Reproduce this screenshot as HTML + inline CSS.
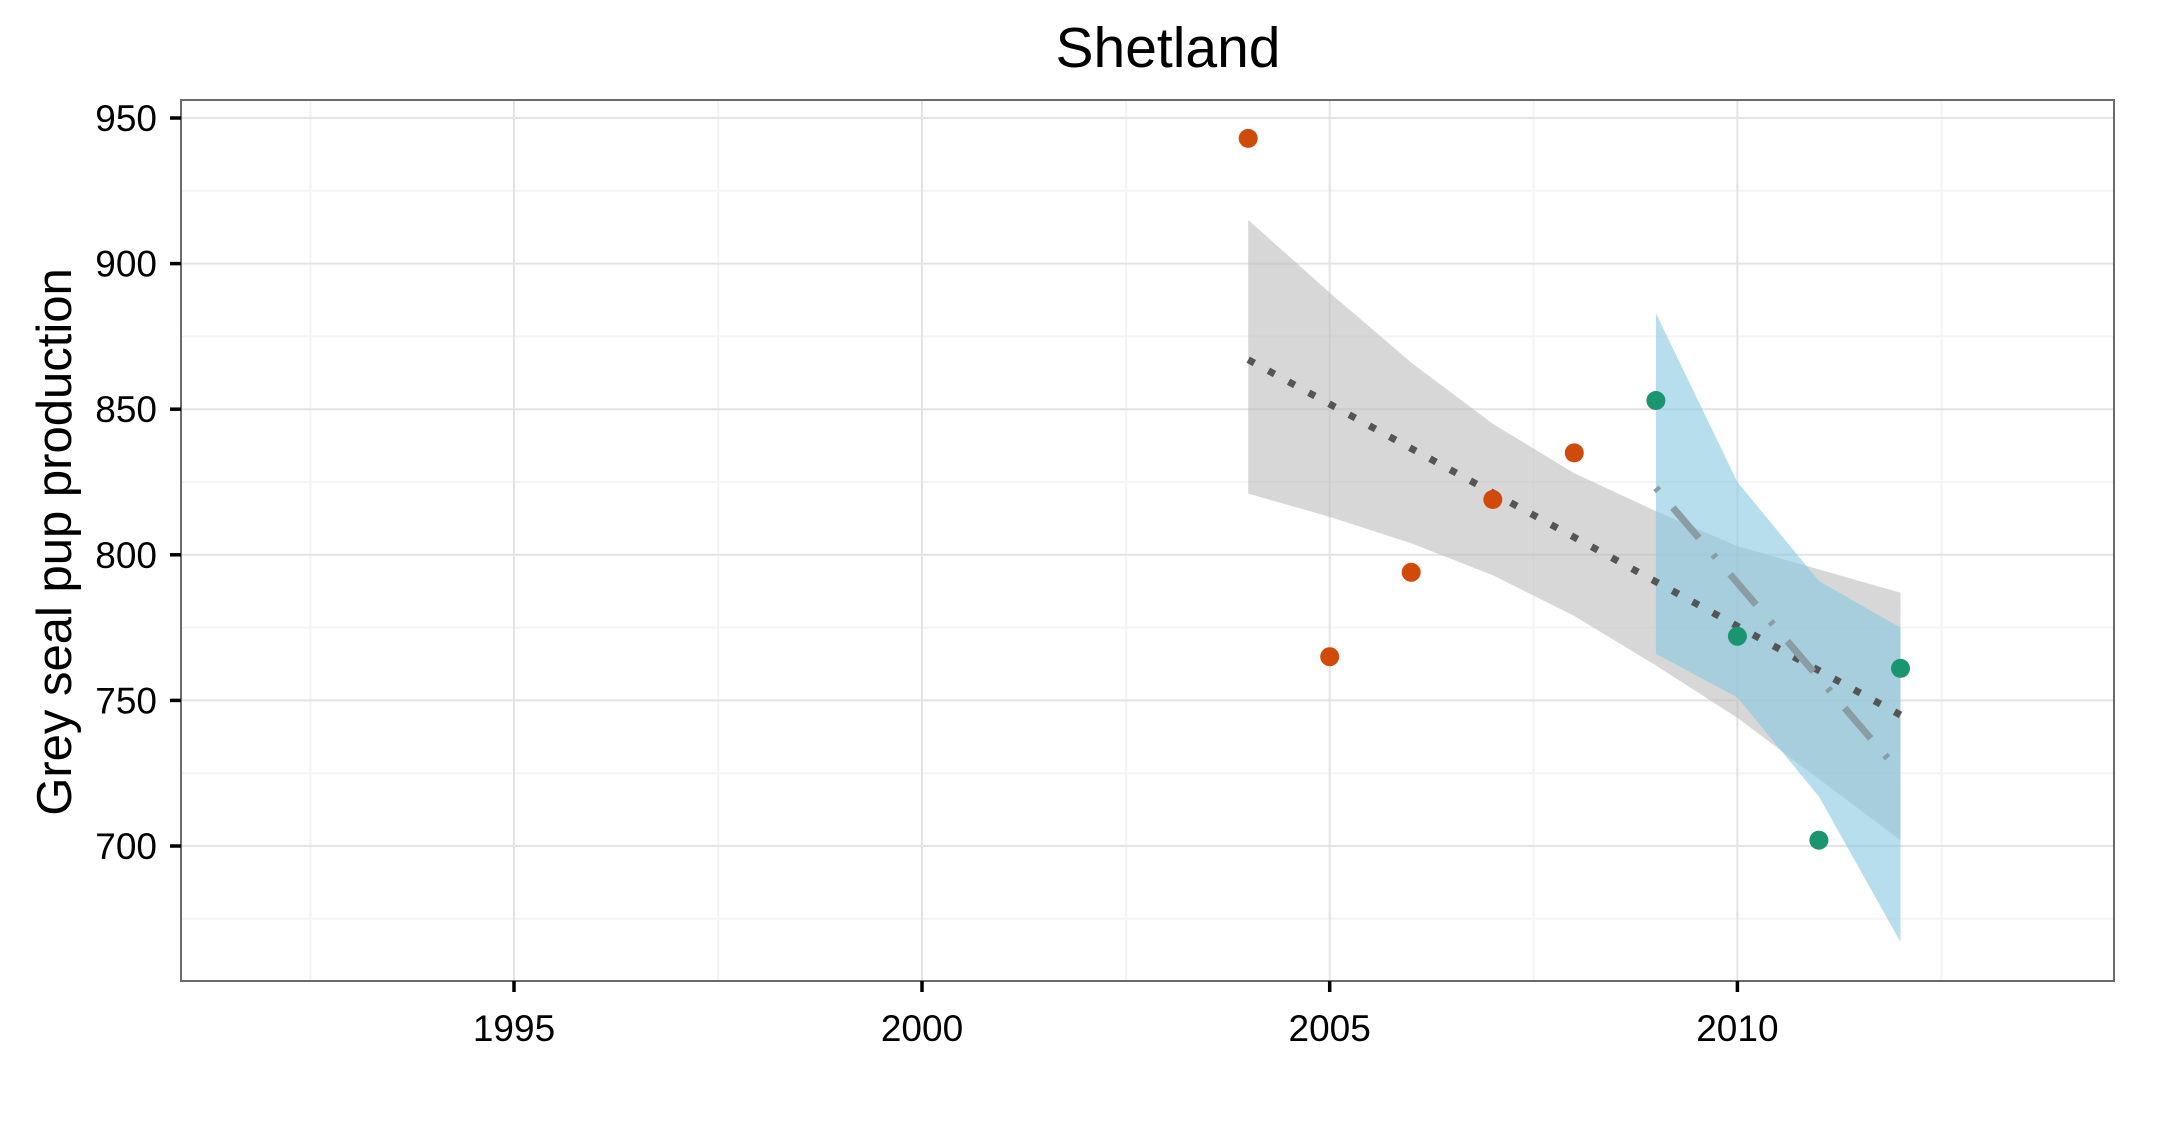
<!DOCTYPE html>
<html><head><meta charset="utf-8"><style>html,body{margin:0;padding:0;background:#fff}</style></head><body>
<svg width="2179" height="1125" viewBox="0 0 2179 1125" xmlns="http://www.w3.org/2000/svg" font-family="Liberation Sans, sans-serif">
<rect width="2179" height="1125" fill="#fff"/>
<g stroke="#f4f4f4" stroke-width="2">
<line x1="181" x2="2114" y1="190.8" y2="190.8"/><line x1="181" x2="2114" y1="336.4" y2="336.4"/><line x1="181" x2="2114" y1="482" y2="482"/><line x1="181" x2="2114" y1="627.6" y2="627.6"/><line x1="181" x2="2114" y1="773.2" y2="773.2"/><line x1="181" x2="2114" y1="918.8" y2="918.8"/>
<line y1="100" y2="981" x1="310.4" x2="310.4"/><line y1="100" y2="981" x1="718.2" x2="718.2"/><line y1="100" y2="981" x1="1125.9" x2="1125.9"/><line y1="100" y2="981" x1="1533.6" x2="1533.6"/><line y1="100" y2="981" x1="1941.3" x2="1941.3"/>
</g>
<g stroke="#e3e3e3" stroke-width="2">
<line x1="181" x2="2114" y1="118" y2="118"/><line x1="181" x2="2114" y1="263.6" y2="263.6"/><line x1="181" x2="2114" y1="409.2" y2="409.2"/><line x1="181" x2="2114" y1="554.8" y2="554.8"/><line x1="181" x2="2114" y1="700.4" y2="700.4"/><line x1="181" x2="2114" y1="846" y2="846"/>
<line y1="100" y2="981" x1="514" x2="514"/><line y1="100" y2="981" x1="922" x2="922"/><line y1="100" y2="981" x1="1329.7" x2="1329.7"/><line y1="100" y2="981" x1="1737.4" x2="1737.4"/>
</g>
<polygon fill="#bdbdbd" fill-opacity="0.6" points="1248.2,219.9 1329.7,292.7 1411.2,362.6 1492.8,423.8 1574.3,473.3 1655.9,511.1 1737.4,546.1 1818.9,569.4 1900.5,592.7 1900.5,840.2 1818.9,779 1737.4,717.9 1655.9,665.5 1574.3,616 1492.8,575.2 1411.2,543.2 1329.7,516.9 1248.2,493.6"/>
<polygon fill="#87c8e0" fill-opacity="0.6" points="1655.9,313.1 1737.4,482 1818.9,581 1900.5,627.6 1900.5,942.1 1818.9,796.5 1737.4,697.5 1655.9,653.8"/>
<line x1="1248.2" y1="359.7" x2="1900.5" y2="715" stroke="#555" stroke-width="7" stroke-dasharray="7 16"/>
<line x1="1655.9" y1="487.8" x2="1900.5" y2="773.2" stroke="#8a9ca4" stroke-width="7" stroke-dasharray="4 22 40 22"/>
<g fill="#d04a0a">
<circle cx="1248.2" cy="138.4" r="9.5"/><circle cx="1329.7" cy="656.7" r="9.5"/><circle cx="1411.2" cy="572.3" r="9.5"/><circle cx="1492.8" cy="499.5" r="9.5"/><circle cx="1574.3" cy="452.9" r="9.5"/>
</g>
<g fill="#1b9470">
<circle cx="1655.9" cy="400.5" r="9.5"/><circle cx="1737.4" cy="636.3" r="9.5"/><circle cx="1818.9" cy="840.2" r="9.5"/><circle cx="1900.5" cy="668.4" r="9.5"/>
</g>
<rect x="181" y="100" width="1933" height="881" fill="none" stroke="#6b6b6b" stroke-width="2"/>
<g stroke="#000" stroke-width="3.5">
<line x1="170" x2="181" y1="118" y2="118"/><line x1="170" x2="181" y1="263.6" y2="263.6"/><line x1="170" x2="181" y1="409.2" y2="409.2"/><line x1="170" x2="181" y1="554.8" y2="554.8"/><line x1="170" x2="181" y1="700.4" y2="700.4"/><line x1="170" x2="181" y1="846" y2="846"/>
<line y1="981" y2="992" x1="514" x2="514"/><line y1="981" y2="992" x1="922" x2="922"/><line y1="981" y2="992" x1="1329.7" x2="1329.7"/><line y1="981" y2="992" x1="1737.4" x2="1737.4"/>
</g>
<g font-size="37" fill="#000" text-anchor="end">
<text x="157" y="131">950</text><text x="157" y="276.6">900</text><text x="157" y="422.2">850</text><text x="157" y="567.8">800</text><text x="157" y="713.4">750</text><text x="157" y="859">700</text>
</g>
<g font-size="37" fill="#000" text-anchor="middle">
<text x="514" y="1041">1995</text><text x="922" y="1041">2000</text><text x="1329.7" y="1041">2005</text><text x="1737.4" y="1041">2010</text>
</g>
<text x="1168" y="67" font-size="57" text-anchor="middle">Shetland</text>
<text transform="translate(71,542) rotate(-90)" font-size="49" text-anchor="middle">Grey seal pup production</text>
</svg>
</body></html>
